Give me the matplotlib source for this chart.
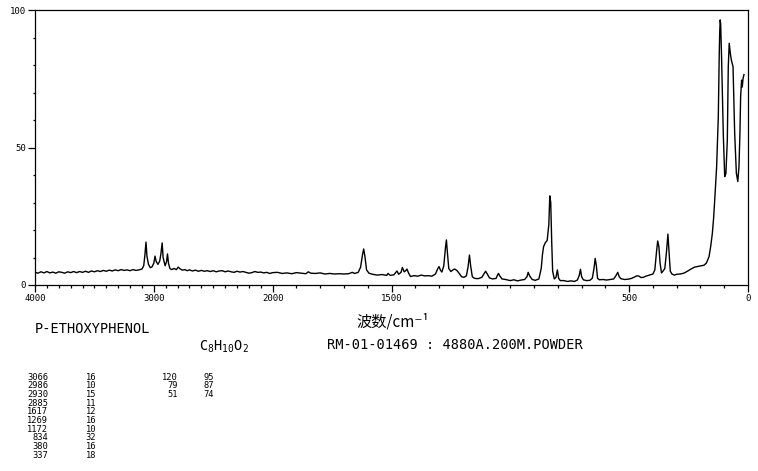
import numpy as np
import matplotlib.pyplot as plt
from matplotlib.ticker import FixedLocator, MultipleLocator

# spectrum (wavenumber cm-1, relative intensity)
wavenumber = [4000, 3975, 3950, 3925, 3900, 3875, 3850, 3825, 3800, 3775, 3750, 3725, 3700, 3675, 3650,
              3625, 3600, 3575, 3550, 3525, 3500, 3475, 3450, 3425, 3400, 3375, 3350, 3325, 3300, 3275,
              3250, 3225, 3200, 3175, 3150, 3125, 3100, 3085, 3075, 3066, 3058, 3045, 3030, 3015, 3000,
              2990, 2980, 2965, 2950, 2940, 2930, 2922, 2905, 2893, 2885, 2877, 2865, 2850, 2830, 2810,
              2795, 2780, 2760, 2740, 2720, 2700, 2675, 2650, 2625, 2600, 2575, 2550, 2525, 2500, 2475,
              2450, 2425, 2400, 2375, 2350, 2325, 2300, 2275, 2250, 2225, 2200, 2175, 2150, 2125, 2100,
              2075, 2050, 2025, 2000, 1980, 1960, 1940, 1920, 1900, 1880, 1860, 1850, 1840, 1820, 1800,
              1780, 1760, 1740, 1720, 1700, 1680, 1665, 1655, 1640, 1630, 1622, 1617, 1612, 1605, 1595,
              1580, 1560, 1540, 1520, 1515, 1505, 1490, 1477, 1470, 1460, 1454, 1447, 1440, 1435, 1428,
              1420, 1405, 1390, 1375, 1360, 1345, 1330, 1315, 1305, 1300, 1294, 1288, 1280, 1273, 1269,
              1265, 1259, 1250, 1240, 1234, 1225, 1215, 1205, 1195, 1185, 1178, 1172, 1167, 1160, 1150,
              1135, 1120, 1110, 1104, 1097, 1088, 1075, 1060, 1054, 1050, 1045, 1035, 1020, 1000, 985,
              970, 955, 940, 930, 925, 918, 908, 895, 880, 870, 865, 860, 852, 845, 838,
              834, 830, 826, 822, 815, 808, 802, 797, 790, 775, 760, 745, 730, 718, 710,
              705, 700, 693, 680, 665, 655, 648, 643, 638, 633, 625, 610, 595, 580, 565,
              555, 548, 542, 535, 520, 505, 490, 475, 469, 460, 450, 440, 430, 415, 400,
              392, 385, 380, 375, 370, 364, 358, 350, 343, 337, 332, 327, 320, 310, 300,
              285, 270, 255, 240, 225, 213, 200, 185, 175, 164, 157, 150, 145, 140, 132,
              125, 121, 119, 117, 115, 111, 104, 98, 93, 87, 83, 79, 74, 70, 63,
              56, 49, 43, 38, 34, 31, 27, 24, 21, 17]
intensity = [4.6, 4.3, 4.8, 4.4, 4.9, 4.4, 4.7, 4.3, 4.8, 4.6, 4.3, 4.8, 4.5, 4.9, 4.5,
             4.9, 4.6, 5.0, 4.6, 5.1, 4.8, 5.2, 4.9, 5.3, 5.0, 5.4, 5.1, 5.5, 5.2, 5.6,
             5.3, 5.5, 5.2, 5.6, 5.3, 5.5, 5.8, 7.0, 11.0, 15.6, 10.5, 7.5, 6.3, 6.6, 8.0,
             10.5, 8.5, 7.5, 8.8, 11.5, 15.3, 10.0, 7.0, 8.5, 11.3, 8.0, 6.0, 5.6, 6.0, 5.6,
             6.5, 5.9, 5.4, 5.6, 5.2, 5.5, 5.1, 5.4, 5.0, 5.3, 5.0, 5.2, 4.9, 5.2, 4.8,
             5.1, 5.2, 4.8, 5.1, 4.8, 4.6, 5.0, 4.7, 4.9, 4.6, 4.3, 4.5, 4.9, 4.6, 4.7,
             4.4, 4.6, 4.2, 4.5, 4.6, 4.2, 4.4, 4.1, 4.5, 4.3, 4.1, 4.8, 4.3, 4.2, 4.4,
             4.0, 4.2, 4.0, 4.1, 4.0, 4.1, 4.6, 4.2, 4.6, 6.5, 11.0, 13.1, 10.5, 5.5, 4.3,
             3.9, 3.6, 3.8, 3.5, 4.2, 3.5, 3.7, 5.1, 3.9, 4.6, 6.4, 4.8, 5.2, 5.8, 4.3,
             3.1, 3.4, 3.2, 3.6, 3.3, 3.4, 3.2, 4.0, 6.0, 6.7, 5.4, 4.7, 7.0, 13.5, 16.4,
             12.0, 6.0, 4.9, 5.6, 5.8, 5.3, 4.2, 3.0, 2.8, 3.3, 6.5, 10.9, 7.0, 3.0, 2.4,
             2.3, 2.8, 4.2, 5.0, 4.0, 2.6, 2.2, 2.4, 3.6, 4.2, 3.4, 2.2, 2.0, 1.6, 1.9,
             1.5, 1.8, 2.0, 3.0, 4.6, 3.2, 2.0, 1.7, 2.2, 6.0, 11.0, 14.0, 15.5, 16.2, 22.0,
             32.4, 30.0, 16.0, 5.0, 2.2, 2.8, 5.5, 2.5, 1.6, 1.6, 1.3, 1.5, 1.3, 1.8, 3.5,
             5.7, 3.0, 1.9, 1.6, 1.7, 2.5, 6.0, 9.7, 7.0, 2.4, 1.9, 2.0, 1.8, 2.0, 2.2,
             3.5, 4.6, 3.0, 2.3, 2.0, 2.1, 2.4, 3.0, 3.3, 3.3, 2.7, 2.8, 3.2, 3.6, 4.0,
             5.5, 12.0, 16.0, 14.0, 8.0, 4.4, 5.0, 6.0, 12.0, 18.5, 12.0, 5.0, 4.0, 3.6, 3.9,
             4.0, 4.3, 5.0, 5.8, 6.5, 6.7, 6.9, 7.2, 8.0, 10.3, 14.0, 18.8, 24.0, 30.9, 43.0,
             61.0, 84.0, 92.0, 96.4, 95.0, 82.0, 55.0, 39.4, 40.5, 52.7, 79.4, 87.9, 84.0, 81.8, 79.4,
             55.0, 40.7, 37.6, 43.0, 55.0, 68.5, 74.5, 72.0, 75.0, 76.5]

# peak table printed under the chart
peak_wn = [3066, 2986, 2930, 2885, 1617, 1269, 1172, 834, 380, 337]
peak_int = [16, 10, 15, 11, 12, 16, 10, 32, 16, 18]
low_wn = [120, 79, 51]
low_int = [95, 87, 74]

x_ticks = [4000, 3000, 2000, 1500, 500, 0]
y_ticks = [0, 50, 100]

W, H = 758, 471
mono = 'DejaVu Sans Mono'


def fwd(w):
    # 4000-2000 at half scale, 2000-0 at full scale
    w = np.asarray(w, dtype=float)
    return np.where(w > 2000, 2000 + (w - 2000) / 2, w)


def inv(u):
    u = np.asarray(u, dtype=float)
    return np.where(u > 2000, 2000 + (u - 2000) * 2, u)


def fx(x):
    return x / W


def fy(y):
    return 1 - y / H


fig = plt.figure(figsize=(W / 100, H / 100), dpi=100)
ax = fig.add_axes([fx(35), fy(285), (748 - 35) / W, (285 - 10) / H])

ax.plot(wavenumber, intensity, color='black', lw=1.0)

ax.set_xscale('function', functions=(fwd, inv))
ax.set_xlim(4000, 0)
ax.set_ylim(0, 100)

ax.xaxis.set_major_locator(FixedLocator(x_ticks))
ax.xaxis.set_minor_locator(FixedLocator(list(range(0, 4001, 100))))
ax.set_xticklabels([str(t) for t in x_ticks])
ax.yaxis.set_major_locator(FixedLocator(y_ticks))
ax.yaxis.set_minor_locator(MultipleLocator(10))
ax.set_yticklabels([str(t) for t in y_ticks])

ax.tick_params(which='major', length=5, width=0.9, labelsize=6.5, pad=1.5, color='black')
ax.tick_params(axis='x', which='minor', length=2.2, width=0.9)
ax.tick_params(axis='y', which='minor', length=1.4, width=0.9)
for lab in ax.get_xticklabels() + ax.get_yticklabels():
    lab.set_family(mono)
for s in ax.spines.values():
    s.set_linewidth(0.9)

# labels under the plot
fig.text(fx(393), fy(322), '波数/cm⁻¹', family=['Noto Sans CJK SC', 'DejaVu Sans'],
         fontsize=11, ha='center', va='center')
fig.text(fx(35), fy(329), 'P-ETHOXYPHENOL', family=mono, fontsize=9.8, va='center')
fig.text(fx(224), fy(347), r'$\mathregular{C_8H_{10}O_2}$', family=mono, fontsize=9.8,
         ha='center', va='center')
fig.text(fx(327), fy(345), 'RM-01-01469 : 4880A.200M.POWDER', family=mono, fontsize=9.8,
         va='center')

row_h = 8.7
for i, (w, v) in enumerate(zip(peak_wn, peak_int)):
    y = fy(377 + i * row_h)
    fig.text(fx(48), y, str(w), family=mono, fontsize=6.3, ha='right', va='center')
    fig.text(fx(96), y, str(v), family=mono, fontsize=6.3, ha='right', va='center')
for i, (w, v) in enumerate(zip(low_wn, low_int)):
    y = fy(377 + i * row_h)
    fig.text(fx(178), y, str(w), family=mono, fontsize=6.3, ha='right', va='center')
    fig.text(fx(214), y, str(v), family=mono, fontsize=6.3, ha='right', va='center')

fig.savefig('out.png', dpi=100)
